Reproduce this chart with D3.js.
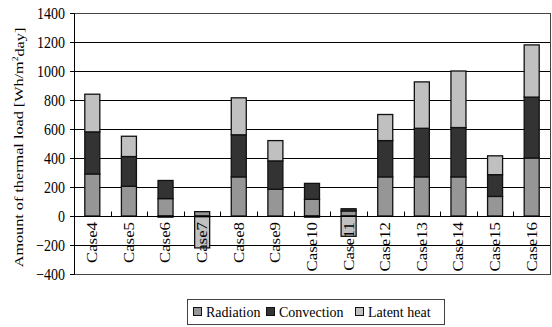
<!DOCTYPE html>
<html>
<head>
<meta charset="utf-8">
<script src="https://cdn.jsdelivr.net/npm/d3@7"></script>
<style>
body { margin: 0; background: #fff; }
svg text { font-family: "Liberation Serif", "Times New Roman", serif; fill: #000; }
</style>
</head>
<body>
<div id="chart"></div>
<script>
// values (Wh/m2day)
const cases = ['Case4', 'Case5', 'Case6', 'Case7', 'Case8', 'Case9', 'Case10', 'Case11', 'Case12', 'Case13', 'Case14', 'Case15', 'Case16'];
const radiation = [290, 205, 120, 30, 270, 185, 115, 35, 270, 270, 270, 135, 400];
const convection = [290, 205, 125, -5, 290, 195, 110, 15, 250, 335, 340, 150, 420];
const latentHeat = [260, 140, -8, -215, 255, 140, -8, -140, 180, 320, 390, 130, 360];
const seriesNames = ['Radiation', 'Convection', 'Latent heat'];
const yTicks = [-400, -200, 0, 200, 400, 600, 800, 1000, 1200, 1400];

const colors = { 'Radiation': '#969696', 'Convection': '#333333', 'Latent heat': '#c0c0c0' };

let margin = { top: 13, right: 2, bottom: 53, left: 74 },
	width = 552 - margin.left - margin.right,
	height = 327 - margin.top - margin.bottom;

// the reference text is drawn a bit taller than wide
const stretch = 1.2;

const rows = cases.map((c, i) => ({
	name: c,
	'Radiation': radiation[i],
	'Convection': convection[i],
	'Latent heat': latentHeat[i]
}));

const stacked = d3.stack().keys(seriesNames).offset(d3.stackOffsetDiverging)(rows);

const root = d3
	.select('#chart')
	.append('svg')
	.attr('width', 552)
	.attr('height', 327);

const svg = root.append('g').attr('transform', 'translate(' + margin.left + ',' + margin.top + ')');

const x = d3.scaleBand().range([0, width]).domain(cases).paddingInner(0.59).paddingOuter(0.295);
const band = d3.scaleBand().range([0, width]).domain(cases);
const y = d3.scaleLinear().range([height, 0]).domain([-400, 1400]);

// gridlines
svg
	.append('g')
	.selectAll('line')
	.data(yTicks)
	.enter()
	.append('line')
	.attr('x1', 0)
	.attr('x2', width)
	.attr('y1', (d) => Math.round(y(d)) + 0.5)
	.attr('y2', (d) => Math.round(y(d)) + 0.5)
	.attr('stroke', '#000')
	.attr('stroke-width', 1);

// frame
svg
	.append('rect')
	.attr('x', 0.5)
	.attr('y', 0.5)
	.attr('width', width)
	.attr('height', Math.round(height))
	.attr('fill', 'none')
	.attr('stroke', '#444');

// y axis
const yAxis = svg
	.append('g')
	.call(d3.axisLeft(y).tickValues(yTicks).tickFormat(d3.format('d')).tickSize(4).tickPadding(5))
	.call((g) => g.select('.domain').attr('stroke', '#000'));
yAxis.selectAll('text').attr('font-size', 14).attr('transform', 'scale(1,' + stretch + ')').attr('dy', '0.3em');
yAxis.selectAll('.tick line').attr('stroke', '#000');

// bars
svg
	.append('g')
	.selectAll('g')
	.data(stacked)
	.enter()
	.append('g')
	.attr('fill', (s) => colors[s.key])
	.selectAll('rect')
	.data((s) => s)
	.enter()
	.append('rect')
	.attr('x', (d) => x(d.data.name))
	.attr('y', (d) => y(Math.max(d[0], d[1])))
	.attr('width', x.bandwidth())
	.attr('height', (d) => Math.abs(y(d[0]) - y(d[1])))
	.attr('stroke', '#111')
	.attr('stroke-width', 1.3);

// category axis at zero with inside ticks
const zeroY = Math.round(y(0)) + 0.5;
svg
	.append('line')
	.attr('x1', 0)
	.attr('x2', width)
	.attr('y1', zeroY)
	.attr('y2', zeroY)
	.attr('stroke', '#000');
svg
	.append('g')
	.selectAll('line')
	.data(cases.slice(1))
	.enter()
	.append('line')
	.attr('x1', (d) => Math.round(band(d)) + 0.5)
	.attr('x2', (d) => Math.round(band(d)) + 0.5)
	.attr('y1', zeroY)
	.attr('y2', zeroY - 5)
	.attr('stroke', '#000');

// category labels
svg
	.append('g')
	.selectAll('text')
	.data(cases)
	.enter()
	.append('text')
	.attr('transform', (d) => 'translate(' + (band(d) + band.bandwidth() / 2) + ',' + (y(0) + 6) + ') scale(1,' + stretch + ') rotate(-90)')
	.attr('text-anchor', 'end')
	.attr('dy', '0.35em')
	.attr('font-size', 14)
	.text((d) => d);

// y axis title
const title = root
	.append('text')
	.attr('transform', 'translate(18,' + (margin.top + height / 2 + 4) + ') scale(1,' + stretch + ') rotate(-90)')
	.attr('text-anchor', 'middle')
	.attr('dy', '0.35em')
	.attr('font-size', 13.5);
title.append('tspan').text('Amount of thermal load [Wh/m');
title.append('tspan').attr('font-size', 8).attr('dy', '-0.6em').text('2');
title.append('tspan').attr('dy', '0.45em').text('day]');

// legend
const legend = root.append('g');
legend
	.append('rect')
	.attr('x', 187.5)
	.attr('y', 299.5)
	.attr('width', 257)
	.attr('height', 25)
	.attr('fill', '#fff')
	.attr('stroke', '#444');
const legendX = [193, 266, 355];
const legendItems = legend
	.selectAll('g.item')
	.data(seriesNames)
	.enter()
	.append('g')
	.attr('class', 'item')
	.attr('transform', (d, i) => 'translate(' + legendX[i] + ',0)');
legendItems
	.append('rect')
	.attr('x', 0.5)
	.attr('y', 307.5)
	.attr('width', 8)
	.attr('height', 8)
	.attr('fill', (d) => colors[d])
	.attr('stroke', '#111');
legendItems
	.append('text')
	.attr('x', 13)
	.attr('y', 317)
	.attr('font-size', 14)
	.text((d) => d);
</script>
</body>
</html>
